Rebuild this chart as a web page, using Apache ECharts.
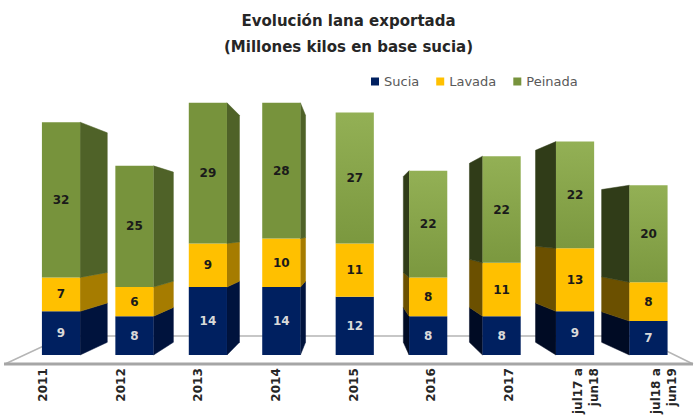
<!DOCTYPE html>
<html><head><meta charset="utf-8">
<script src="https://cdn.jsdelivr.net/npm/echarts@6/dist/echarts.min.js"></script>
<style>html,body{margin:0;padding:0;background:#fff}#c{width:697px;height:417px}</style>
</head><body><div id="c"></div>
<script>
var categories = ['2011','2012','2013','2014','2015','2016','2017','jul17 a\njun18','jul18 a\njun19'];
var sucia   = [9, 8, 14, 14, 12, 8, 8, 9, 7];
var lavada  = [7, 6, 9, 10, 11, 8, 11, 13, 8];
var peinada = [32, 25, 29, 28, 27, 22, 22, 22, 20];
var seriesNames = ['Sucia', 'Lavada', 'Peinada'];

var frontColors = ['#002060', '#ffc000', '#77933c'];
var sideRight = ['#00133d', '#a67c00', '#4f6228'];
var sideLeft  = ['#000b24', '#6b5000', '#303c18'];
var labelColors = ['#d9d9d9', '#1a1a1a', '#1a1a1a'];

var chart = echarts.init(document.getElementById('c'), null, {renderer: 'svg'});

function makeSeries(idx, values, bases) {
  var data = values.map(function (v, i) { return [i, bases[i], v]; });
  return {
    type: 'custom',
    name: seriesNames[idx],
    xAxisIndex: 0, yAxisIndex: 0,
    data: data,
    encode: {x: 0, y: [1, 2]},
    itemStyle: {color: frontColors[idx]},
    renderItem: function (params, api) {
      var i = api.value(0), b = api.value(1), v = api.value(2);
      var pb = api.coord([i, b]), pt = api.coord([i, b + v]);
      var bandW = api.size([1, 0])[0];
      var w = bandW * 0.52;
      var xl = pb[0] - w / 2, xr = pb[0] + w / 2;
      var yb = pb[1], yt = pt[1];
      var vc = api.coord([4, 0]);
      var VX = vc[0] - 3, VY = 228, k = 0.1;
      var children = [];
      if (xr < VX) {
        children.push({type: 'polygon', shape: {points: [
          [xr, yt], [xr + k * (VX - xr), yt + k * (VY - yt)],
          [xr + k * (VX - xr), yb + k * (VY - yb)], [xr, yb]]},
          style: {fill: sideRight[idx], stroke: sideRight[idx], lineWidth: 0.5}});
      } else if (xl > VX) {
        children.push({type: 'polygon', shape: {points: [
          [xl, yt], [xl + k * (VX - xl), yt + k * (VY - yt)],
          [xl + k * (VX - xl), yb + k * (VY - yb)], [xl, yb]]},
          style: {fill: sideLeft[idx], stroke: sideLeft[idx], lineWidth: 0.5}});
      }
      var fill = frontColors[idx];
      if (idx === 2 && xl > VX - 30) {
        fill = new echarts.graphic.LinearGradient(0, 0, 0, 1, [
          {offset: 0, color: '#93b055'}, {offset: 1, color: '#7b983f'}]);
      }
      children.push({type: 'rect', shape: {x: xl, y: yt, width: w, height: yb - yt},
        style: {fill: fill}});
      children.push({type: 'text', style: {
        text: String(v), x: (xl + xr) / 2, y: (yt + yb) / 2,
        align: 'center', verticalAlign: 'middle',
        fill: labelColors[idx], font: 'bold 12px "DejaVu Sans"'}});
      return {type: 'group', children: children};
    },
    z: 3
  };
}

var base1 = sucia.map(function () { return 0; });
var base2 = sucia.slice();
var base3 = sucia.map(function (s, i) { return s + lavada[i]; });

chart.setOption({
  animation: false,
  backgroundColor: '#fff',
  title: {
    text: 'Evolución lana exportada\n(Millones kilos en base sucia)',
    left: 'center', top: 3,
    textStyle: {fontFamily: 'DejaVu Sans', fontSize: 15, fontWeight: 'bold', color: '#262626', lineHeight: 26}
  },
  legend: {
    data: seriesNames.map(function (n, i) { return {name: n, icon: 'rect', itemStyle: {color: frontColors[i]}}; }),
    left: 366, top: 70, itemWidth: 8, itemHeight: 8, itemGap: 17,
    textStyle: {fontFamily: 'DejaVu Sans', fontSize: 13, color: '#595959'}
  },
  graphic: [
    {type: 'polyline', z: 0, shape: {points: [[5, 364], [65, 336], [636, 336], [693, 364]]},
      style: {stroke: '#b5b5b5', lineWidth: 1.5, fill: null}},
    {type: 'line', z: 0, shape: {x1: 4, y1: 364, x2: 693, y2: 364},
      style: {stroke: '#a6a6a6', lineWidth: 3}}
  ],
  grid: [
    {left: 24.3, right: 11.8, top: 64, bottom: 62},
    {left: 43, right: 33, top: 64, bottom: 53}
  ],
  xAxis: [
    {type: 'category', gridIndex: 0, data: categories, axisLine: {show: false}, axisTick: {show: false}, axisLabel: {show: false}},
    {type: 'category', gridIndex: 1, data: categories, boundaryGap: false,
      axisLine: {show: false}, axisTick: {show: false},
      axisLabel: {rotate: 90, margin: 15, interval: 0, fontFamily: 'DejaVu Sans', fontSize: 12, fontWeight: 'bold', color: '#262626', lineHeight: 16}}
  ],
  yAxis: [
    {type: 'value', gridIndex: 0, min: 0, max: 60, show: false},
    {type: 'value', gridIndex: 1, min: 0, max: 60, show: false}
  ],
  series: [
    makeSeries(0, sucia, base1),
    makeSeries(1, lavada, base2),
    makeSeries(2, peinada, base3)
  ]
});
</script></body></html>
